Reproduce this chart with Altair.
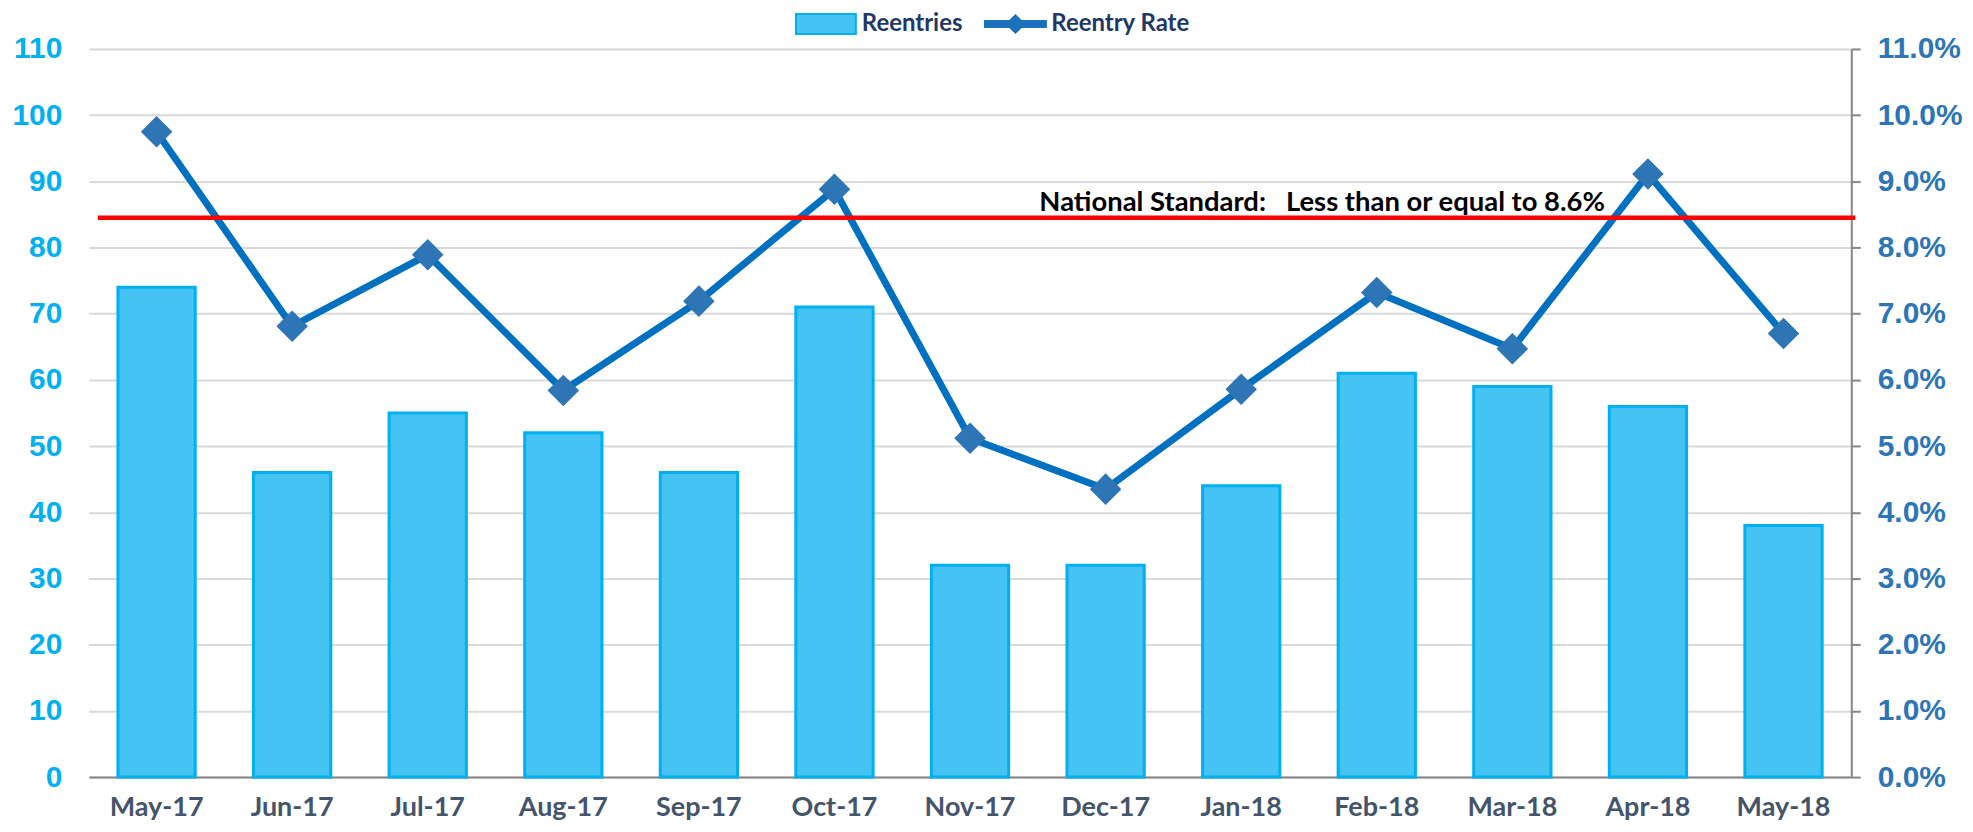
import altair as alt
import pandas as pd

# ---- data ----
months = ["May-17", "Jun-17", "Jul-17", "Aug-17", "Sep-17", "Oct-17", "Nov-17",
          "Dec-17", "Jan-18", "Feb-18", "Mar-18", "Apr-18", "May-18"]
reentries = [74, 46, 55, 52, 46, 71, 32, 32, 44, 61, 59, 56, 38]
reentry_rate = [0.0975, 0.0681, 0.0789, 0.0584, 0.0719, 0.0888, 0.0512,
                0.0435, 0.0586, 0.0732, 0.0647, 0.0911, 0.0670]
left_ticks = [0, 10, 20, 30, 40, 50, 60, 70, 80, 90, 100, 110]
right_ticks = [0.0, 0.01, 0.02, 0.03, 0.04, 0.05, 0.06, 0.07, 0.08, 0.09, 0.10, 0.11]
standard_line = [0.0845]
standard_label = ["National Standard:\u00a0\u00a0\u00a0Less than or equal to 8.6%"]
standard_label_pos = [0.0867]

df = pd.DataFrame({
    "Month": months,
    "Reentries": reentries,
    "Rate": reentry_rate,
    "BarSeries": ["Reentries"] * len(months),
    "LineSeries": ["Reentry Rate"] * len(months),
})
std_df = pd.DataFrame({"Rate": standard_line})
lbl_df = pd.DataFrame({"Rate": standard_label_pos, "Label": standard_label})

W, H = 1767, 730

x_enc = alt.X(
    "Month:N", sort=months,
    scale=alt.Scale(paddingInner=0.43, paddingOuter=0.215),
    axis=alt.Axis(title=None, labelAngle=0, labelFont="Lato", labelFontWeight="bold",
                  labelFontSize=27, labelColor="#44546A", labelPadding=18, ticks=False,
                  domainColor="#868686", domainWidth=2, grid=False),
)

y_left = alt.Y(
    "Reentries:Q",
    scale=alt.Scale(domain=[0, 110], nice=False),
    axis=alt.Axis(title=None, orient="left", values=left_ticks, labelFont="Liberation Sans",
                  labelFontWeight="bold", labelFontSize=30, labelColor="#00B0F0",
                  labelPadding=27, ticks=False, domain=False,
                  gridColor="#D9D9D9", gridWidth=2),
)

y_right = alt.Y(
    "Rate:Q",
    scale=alt.Scale(domain=[0, 0.11], nice=False),
    axis=alt.Axis(title=None, orient="right", values=right_ticks, format=".1%",
                  labelFont="Liberation Sans", labelFontWeight="bold", labelFontSize=30,
                  labelColor="#2E75B6", labelPadding=17, tickSize=9, tickColor="#868686",
                  tickWidth=2, domainColor="#868686", domainWidth=2, grid=False),
)

rect_path = "M-1.5,-0.5L1.5,-0.5L1.5,0.5L-1.5,0.5Z"
line_diamond_path = ("M-1.5,-0.19L-0.29,-0.19L0,-0.48L0.29,-0.19L1.5,-0.19L1.5,0.19"
                     "L0.29,0.19L0,0.48L-0.29,0.19L-1.5,0.19Z")

bars = alt.Chart(df).mark_bar(stroke="#00B0F0", strokeWidth=3).encode(
    x=x_enc,
    y=y_left,
    fill=alt.Fill(
        "BarSeries:N",
        scale=alt.Scale(domain=["Reentries"], range=["#45C3F2"]),
        legend=alt.Legend(orient="none", legendX=718, legendY=-46, title=None,
                          symbolType=rect_path, symbolSize=1600,
                          symbolStrokeColor="#00B0F0", symbolStrokeWidth=2,
                          labelFont="Lato", labelFontWeight="bold", labelFontSize=24,
                          labelColor="#1F3864", labelOffset=15, padding=0),
    ),
)

line = alt.Chart(df).mark_line(strokeWidth=7).encode(
    x=x_enc,
    y=y_right,
    stroke=alt.Stroke(
        "LineSeries:N",
        scale=alt.Scale(domain=["Reentry Rate"], range=["#0070C0"]),
        legend=alt.Legend(orient="none", legendX=908, legendY=-46, title=None,
                          symbolType=line_diamond_path, symbolSize=1764,
                          symbolFillColor="#1A72BC", symbolStrokeWidth=0,
                          labelFont="Lato", labelFontWeight="bold", labelFontSize=24,
                          labelColor="#1F3864", labelOffset=15, padding=0),
    ),
)

points = alt.Chart(df).mark_point(shape="diamond", size=1000, filled=True,
                                  color="#2E75B6", opacity=1).encode(x=x_enc, y=y_right)

rule = alt.Chart(std_df).mark_rule(color="#FF0000", strokeWidth=4.5).encode(
    y=y_right, x=alt.value(9), x2=alt.value(W + 4)
)

label = alt.Chart(lbl_df).mark_text(align="left", baseline="middle", font="Lato",
                                    fontWeight="bold", fontSize=27.5, color="#000000").encode(
    x=alt.value(953), y=y_right, text="Label:N"
)

chart = alt.layer(bars, alt.layer(line, points, rule, label)).resolve_scale(
    y="independent"
).properties(
    width=W, height=H,
    padding={"left": 81, "top": 40, "right": 114, "bottom": 50},
    autosize=alt.AutoSizeParams(type="none"),
    background="#FFFFFF",
).configure_view(stroke=None)

chart.save("out.html", embed_options={"renderer": "svg", "actions": False})
